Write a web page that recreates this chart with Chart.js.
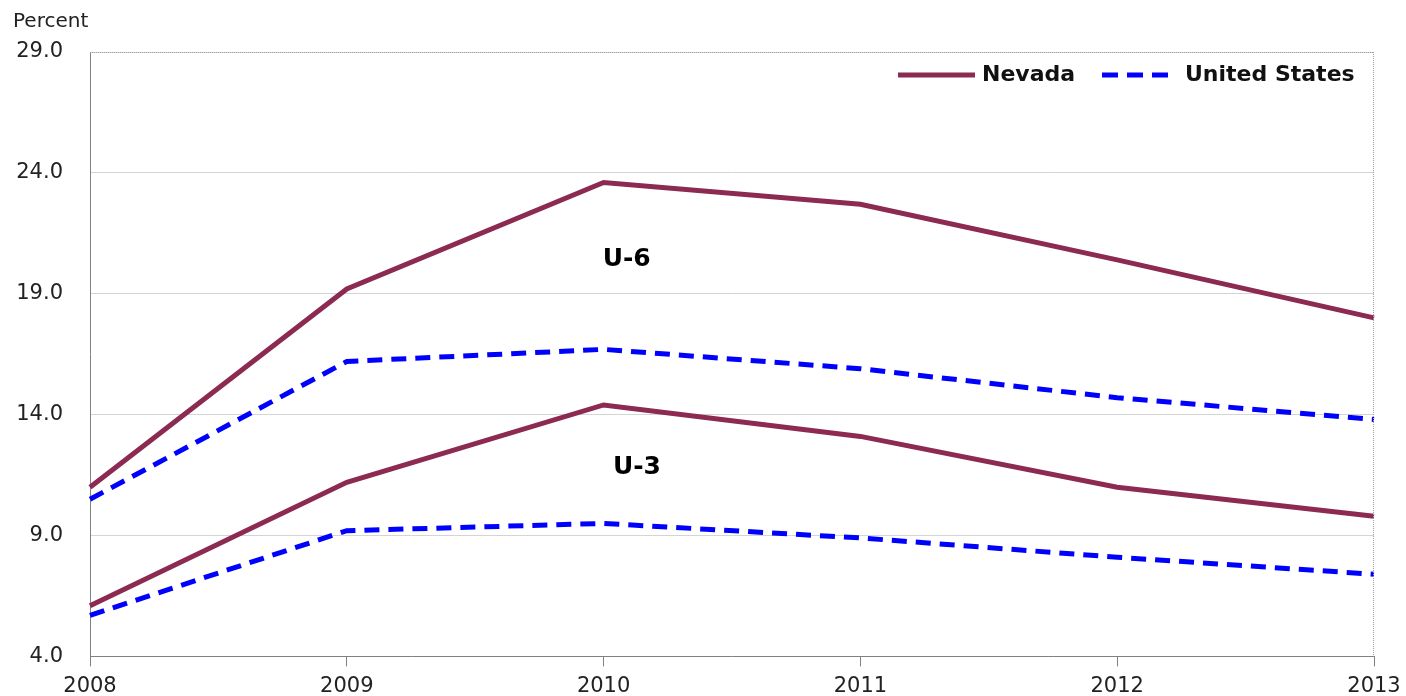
<!DOCTYPE html>
<html><head><meta charset="utf-8">
<script src="https://cdn.jsdelivr.net/npm/chart.js@4.4.1/dist/chart.umd.min.js"></script>
<style>html,body{margin:0;padding:0;background:#fff}#wrap{width:1406px;height:696px}</style>
</head><body><div id="wrap"><canvas id="c" width="1406" height="696"></canvas></div>
<script>
const years = ['2008','2009','2010','2011','2012','2013'];
const nevadaU6 = [11.0, 19.2, 23.6, 22.7, 20.4, 18.0];
const usU6     = [10.5, 16.2, 16.7, 15.9, 14.7, 13.8];
const nevadaU3 = [6.1, 11.2, 14.4, 13.1, 11.0, 9.8];
const usU3     = [5.7, 9.2, 9.5, 8.9, 8.1, 7.4];
const yTicks = [4, 9, 14, 19, 24, 29];
const seriesNames = ['Nevada', 'United States'];
const annotations = [{text:'U-6', x:2.09, y:20.4}, {text:'U-3', x:2.13, y:11.8}];

const NV = '#8c2a52', US = '#0000ff';
const FONT = '"DejaVu Sans", Verdana, sans-serif';

const nv = d => ({label:seriesNames[0], data:d, borderColor:NV, borderWidth:5, pointRadius:0, tension:0, fill:false});
const us = d => ({label:seriesNames[1], data:d, borderColor:US, borderWidth:5, borderDash:[15,9], pointRadius:0, tension:0, fill:false});

const extras = {
  id:'extras',
  afterDraw(chart){
    const {ctx, chartArea:a, scales:{x,y}} = chart;
    ctx.save();
    ctx.strokeStyle = '#a0a0a0'; ctx.lineWidth = 1; ctx.setLineDash([1,1]);
    ctx.beginPath();
    ctx.moveTo(a.left, a.top+0.5); ctx.lineTo(a.right, a.top+0.5);
    ctx.moveTo(a.right-0.5, a.top); ctx.lineTo(a.right-0.5, a.bottom);
    ctx.stroke();
    ctx.setLineDash([]);
    ctx.fillStyle = '#222'; ctx.font = '20px ' + FONT;
    ctx.textAlign = 'left'; ctx.textBaseline = 'middle';
    ctx.fillText('Percent', 13, 22);
    ctx.font = 'bold 25px ' + FONT; ctx.fillStyle = '#000'; ctx.textAlign = 'center';
    annotations.forEach(t => ctx.fillText(t.text, x.getPixelForValue(t.x), y.getPixelForValue(t.y)));
    const ly = a.top + 23;
    ctx.font = 'bold 22px ' + FONT; ctx.textAlign = 'left';
    ctx.lineWidth = 5;
    ctx.strokeStyle = NV;
    ctx.beginPath(); ctx.moveTo(898, ly); ctx.lineTo(975, ly); ctx.stroke();
    ctx.fillStyle = '#111'; ctx.fillText(seriesNames[0], 982, ly);
    ctx.strokeStyle = US; ctx.setLineDash([16,9]);
    ctx.beginPath(); ctx.moveTo(1102, ly); ctx.lineTo(1174, ly); ctx.stroke();
    ctx.setLineDash([]);
    ctx.fillText(seriesNames[1], 1185, ly);
    ctx.restore();
  }
};

new Chart(document.getElementById('c'), {
  type:'line',
  data:{labels:years, datasets:[nv(nevadaU6), us(usU6), nv(nevadaU3), us(usU3)]},
  options:{
    responsive:false, animation:false,
    layout:{padding:{left:0, right:32, top:52, bottom:0}},
    plugins:{legend:{display:false}, tooltip:{enabled:false}},
    scales:{
      x:{
        offset:false,
        grid:{drawOnChartArea:false, drawTicks:true, tickLength:10, color:'#808080'},
        border:{color:'#808080', width:1},
        ticks:{color:'#222', font:{family:FONT, size:21}, padding:8, maxRotation:0, autoSkip:false},
        afterFit(s){ s.height = 39; s.paddingRight = 20; s.paddingLeft = 0; }
      },
      y:{
        min:4, max:29,
        afterBuildTicks(s){ s.ticks = yTicks.map(v => ({value:v})); },
        grid:{color:'#d4d4d4', drawTicks:false, lineWidth:1},
        border:{color:'#808080', width:1},
        ticks:{color:'#222', font:{family:FONT, size:21}, padding:27, callback:v => Number(v).toFixed(1)},
        afterFit(s){ s.width = 90; }
      }
    }
  },
  plugins:[extras]
});
</script></body></html>
